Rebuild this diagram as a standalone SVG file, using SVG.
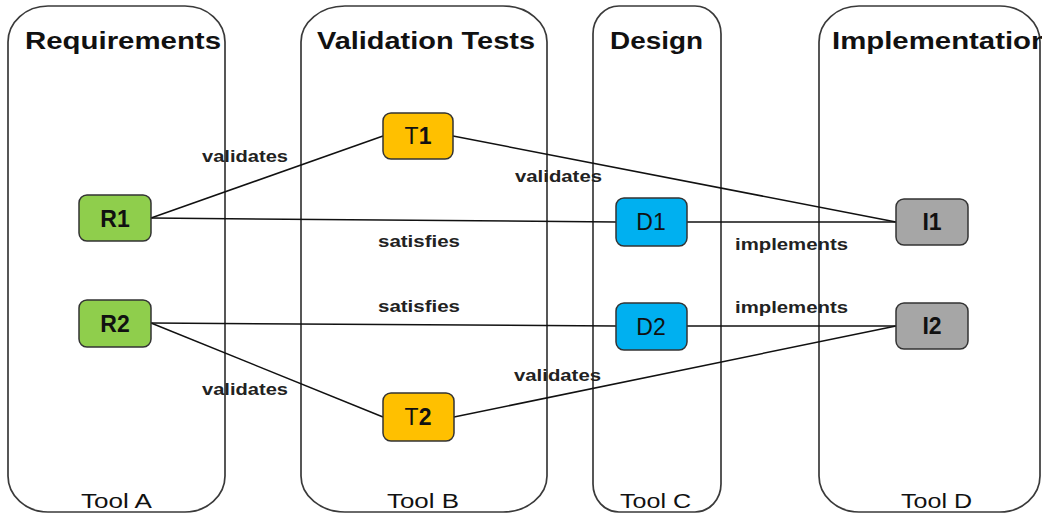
<svg xmlns="http://www.w3.org/2000/svg" width="1042" height="515" viewBox="0 0 1042 515">
<style>
.lane{fill:none;stroke:#3a3a3a;stroke-width:1.7}
.head{font-family:"Liberation Sans",Arial,sans-serif;font-weight:bold;font-size:23px;fill:#111}
.tool{font-family:"Liberation Sans",Arial,sans-serif;font-size:20px;fill:#111}
.node{stroke:#333;stroke-width:1.5}
.ntext{font-family:"Liberation Sans",Arial,sans-serif;font-weight:bold;font-size:23px;fill:#111;text-anchor:middle}
.ntext.thin{font-weight:normal}
.edge{stroke:#111;stroke-width:1.5;fill:none}
.lbl{font-family:"Liberation Sans",Arial,sans-serif;font-weight:bold;font-size:17px;fill:#222}
.req{fill:#8fce4c}.tst{fill:#ffc000}.des{fill:#00b0f0}.imp{fill:#a6a6a6}
</style>
<rect width="1042" height="515" fill="#fff"/>
<g id="lanes">
<g id="lane-requirements">
<rect class="lane" x="8" y="6" width="217" height="506" rx="40" ry="36"/>
<text class="head" x="25" y="49" textLength="196" lengthAdjust="spacingAndGlyphs">Requirements</text>
<text class="tool" x="81" y="508" textLength="71" lengthAdjust="spacingAndGlyphs">Tool A</text>
</g>
<g id="lane-validation">
<rect class="lane" x="301" y="6" width="246" height="506" rx="44" ry="36"/>
<text class="head" x="317" y="49" textLength="218" lengthAdjust="spacingAndGlyphs">Validation Tests</text>
<text class="tool" x="387" y="508" textLength="72" lengthAdjust="spacingAndGlyphs">Tool B</text>
</g>
<g id="lane-design">
<rect class="lane" x="593" y="6" width="128" height="506" rx="26" ry="28"/>
<text class="head" x="610" y="49" textLength="93" lengthAdjust="spacingAndGlyphs">Design</text>
<text class="tool" x="620" y="508" textLength="71" lengthAdjust="spacingAndGlyphs">Tool C</text>
</g>
<g id="lane-implementation">
<rect class="lane" x="819" y="6" width="221" height="506" rx="40" ry="36"/>
<text class="head" x="832" y="49" textLength="217" lengthAdjust="spacingAndGlyphs">Implementation</text>
<text class="tool" x="901" y="508" textLength="71" lengthAdjust="spacingAndGlyphs">Tool D</text>
</g>
</g>
<g id="connectors">
<line class="edge" x1="151" y1="218" x2="383" y2="136"/>
<line class="edge" x1="453" y1="136" x2="896" y2="222"/>
<line class="edge" x1="151" y1="218" x2="616" y2="222"/>
<line class="edge" x1="687" y1="222" x2="896" y2="222"/>
<line class="edge" x1="151" y1="323" x2="616" y2="326"/>
<line class="edge" x1="687" y1="326" x2="896" y2="326"/>
<line class="edge" x1="151" y1="323" x2="383" y2="417"/>
<line class="edge" x1="454" y1="417" x2="896" y2="326"/>
<text class="lbl" x="202" y="162" textLength="86" lengthAdjust="spacingAndGlyphs">validates</text>
<text class="lbl" x="515" y="182" textLength="87" lengthAdjust="spacingAndGlyphs">validates</text>
<text class="lbl" x="378" y="247" textLength="82" lengthAdjust="spacingAndGlyphs">satisfies</text>
<text class="lbl" x="735" y="250" textLength="113" lengthAdjust="spacingAndGlyphs">implements</text>
<text class="lbl" x="378" y="312" textLength="82" lengthAdjust="spacingAndGlyphs">satisfies</text>
<text class="lbl" x="735" y="313" textLength="113" lengthAdjust="spacingAndGlyphs">implements</text>
<text class="lbl" x="514" y="381" textLength="87" lengthAdjust="spacingAndGlyphs">validates</text>
<text class="lbl" x="202" y="395" textLength="86" lengthAdjust="spacingAndGlyphs">validates</text>
</g>
<g id="R1"><rect class="node req" x="79" y="195" width="72" height="46" rx="8"/><text class="ntext" x="115" y="227">R1</text></g>
<g id="R2"><rect class="node req" x="79" y="300" width="72" height="47" rx="8"/><text class="ntext" x="115" y="332">R2</text></g>
<g id="T1"><rect class="node tst" x="383" y="113" width="70" height="46" rx="8"/><text class="ntext" x="418" y="144"><tspan style="font-weight:normal">T</tspan>1</text></g>
<g id="T2"><rect class="node tst" x="383" y="393" width="71" height="48" rx="8"/><text class="ntext" x="418" y="425"><tspan style="font-weight:normal">T</tspan>2</text></g>
<g id="D1"><rect class="node des" x="616" y="198" width="71" height="48" rx="8"/><text class="ntext thin" x="651" y="230">D1</text></g>
<g id="D2"><rect class="node des" x="616" y="303" width="71" height="47" rx="8"/><text class="ntext thin" x="651" y="335">D2</text></g>
<g id="I1"><rect class="node imp" x="896" y="199" width="72" height="46" rx="8"/><text class="ntext" x="932" y="230">I1</text></g>
<g id="I2"><rect class="node imp" x="896" y="303" width="72" height="46" rx="8"/><text class="ntext" x="932" y="334">I2</text></g>
</svg>
